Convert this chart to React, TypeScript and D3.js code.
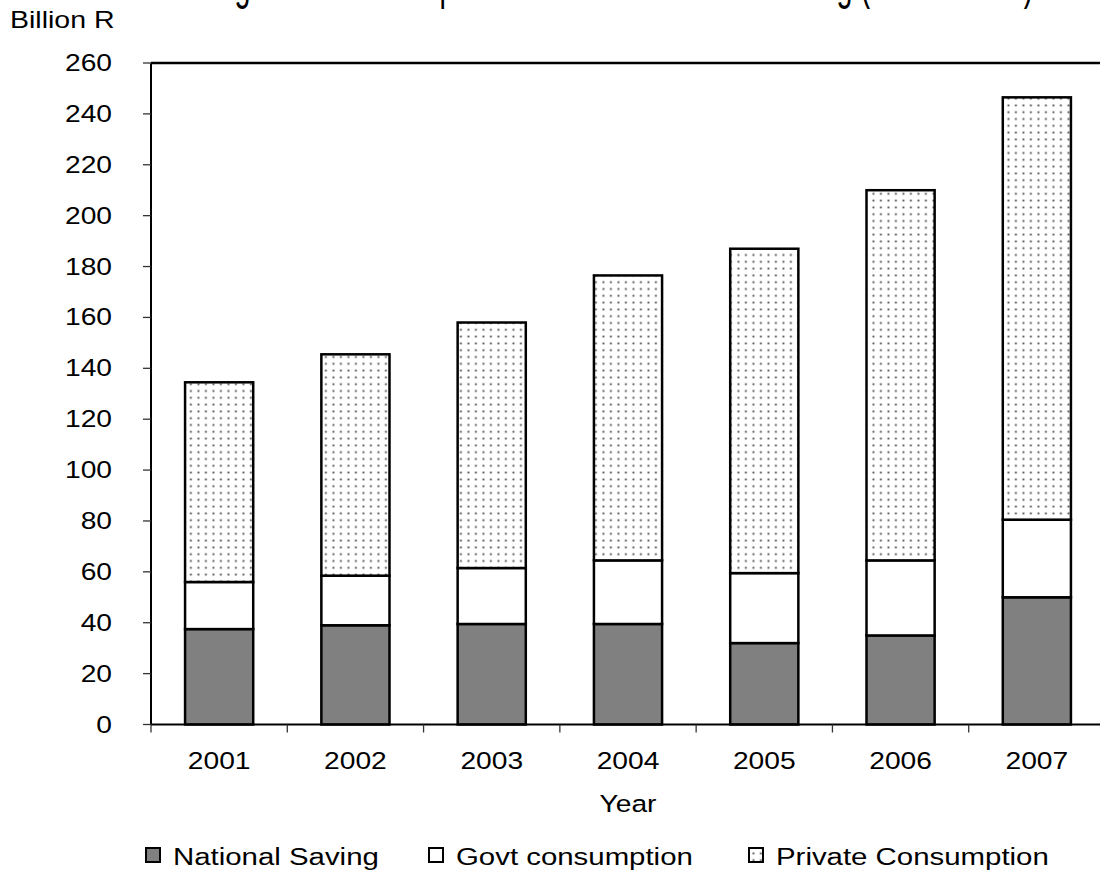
import React from "react";
import * as d3 from "d3";

const years = ["2001", "2002", "2003", "2004", "2005", "2006", "2007"];
const nationalSaving = [37.5, 39, 39.5, 39.5, 32, 35, 50];
const govtConsumption = [18.5, 19.5, 22, 25, 27.5, 29.5, 30.5];
const privateConsumption = [78.5, 87, 96.5, 112, 127.5, 145.5, 166];
const yTicks = [0, 20, 40, 60, 80, 100, 120, 140, 160, 180, 200, 220, 240, 260];
const seriesNames = ["National Saving", "Govt consumption", "Private Consumption"];

const W = 1100;
const H = 875;
const M = { left: 151, right: 1105, top: 63, bottom: 724.5 };
const FONT = "'Liberation Sans', Arial, sans-serif";
const SX = 1.2;

export default function App() {
  const x = d3.scaleBand<string>().domain(years).range([M.left, M.right]).paddingInner(0.5).paddingOuter(0.25);
  const y = d3.scaleLinear().domain([0, 260]).range([M.bottom, M.top]);
  const step = x.step();

  const rows = years.map((yr, i) => ({
    year: yr,
    ns: nationalSaving[i],
    gc: govtConsumption[i],
    pc: privateConsumption[i],
  }));
  const stack = d3.stack<any>().keys(["ns", "gc", "pc"])(rows);
  const fills = ["#808080", "#ffffff", "url(#dots)"];

  const legendX = [145, 428, 748];

  return (
    <svg width={W} height={H} style={{ position: "absolute", left: 0, top: 0 }} fontFamily={FONT}>
      <defs>
        <pattern id="dots" patternUnits="userSpaceOnUse" width={7.5} height={6.8}>
          <rect width={7.5} height={6.8} fill="#fff" />
          <rect x={2.5} y={2.5} width={1.8} height={1.8} fill="#444" />
        </pattern>
      </defs>
      <rect width={W} height={H} fill="#fff" />
      {/* title (cut off at top, as in the reference) */}
      <text transform={`translate(622,-1) scale(${SX},2)`} textAnchor="middle" fontSize={24} fill="#000">
        Figure 3: Consumption and Gross National Saving (2001 - 2007)
      </text>
      <text transform={`translate(10,28) scale(1.24,1)`} fontSize={23} fill="#000">Billion R</text>

      {/* bars */}
      {stack.map((s, si) => (
        <g key={si}>
          {s.map((d, i) => (
            <rect
              key={i}
              x={x(years[i])!}
              width={x.bandwidth()}
              y={y(d[1])}
              height={y(d[0]) - y(d[1])}
              fill={fills[si]}
              stroke="#000"
              strokeWidth={2.5}
            />
          ))}
        </g>
      ))}

      {/* top border */}
      <line x1={M.left} x2={W} y1={M.top} y2={M.top} stroke="#000" strokeWidth={2.5} />
      {/* y axis */}
      <line x1={M.left} x2={M.left} y1={M.top} y2={M.bottom} stroke="#000" strokeWidth={2} />
      {yTicks.map((t) => (
        <g key={t}>
          <line x1={M.left - 8} x2={M.left} y1={y(t)} y2={y(t)} stroke="#333" strokeWidth={1.3} />
          <text transform={`translate(112,${y(t) + 8}) scale(${SX},1)`} textAnchor="end" fontSize={23.5} fill="#000">
            {t}
          </text>
        </g>
      ))}
      {/* x axis */}
      <line x1={M.left} x2={W} y1={M.bottom} y2={M.bottom} stroke="#000" strokeWidth={2} />
      {years.map((yr, i) => (
        <line key={"t" + i} x1={M.left + i * step} x2={M.left + i * step} y1={M.bottom} y2={M.bottom + 8} stroke="#333" strokeWidth={1.3} />
      ))}
      {years.map((yr) => (
        <text key={yr} transform={`translate(${x(yr)! + x.bandwidth() / 2},769) scale(${SX},1)`} textAnchor="middle" fontSize={23.5} fill="#000">
          {yr}
        </text>
      ))}
      <text transform={`translate(628,812) scale(${SX},1)`} textAnchor="middle" fontSize={23.5} fill="#000">Year</text>

      {/* legend */}
      {seriesNames.map((n, i) => (
        <g key={n}>
          <rect x={legendX[i] + 1} y={848} width={14} height={14} fill={fills[i]} stroke="#000" strokeWidth={2} />
          <text transform={`translate(${legendX[i] + 28},865) scale(${SX},1)`} fontSize={24.5} fill="#000">
            {n}
          </text>
        </g>
      ))}
    </svg>
  );
}
